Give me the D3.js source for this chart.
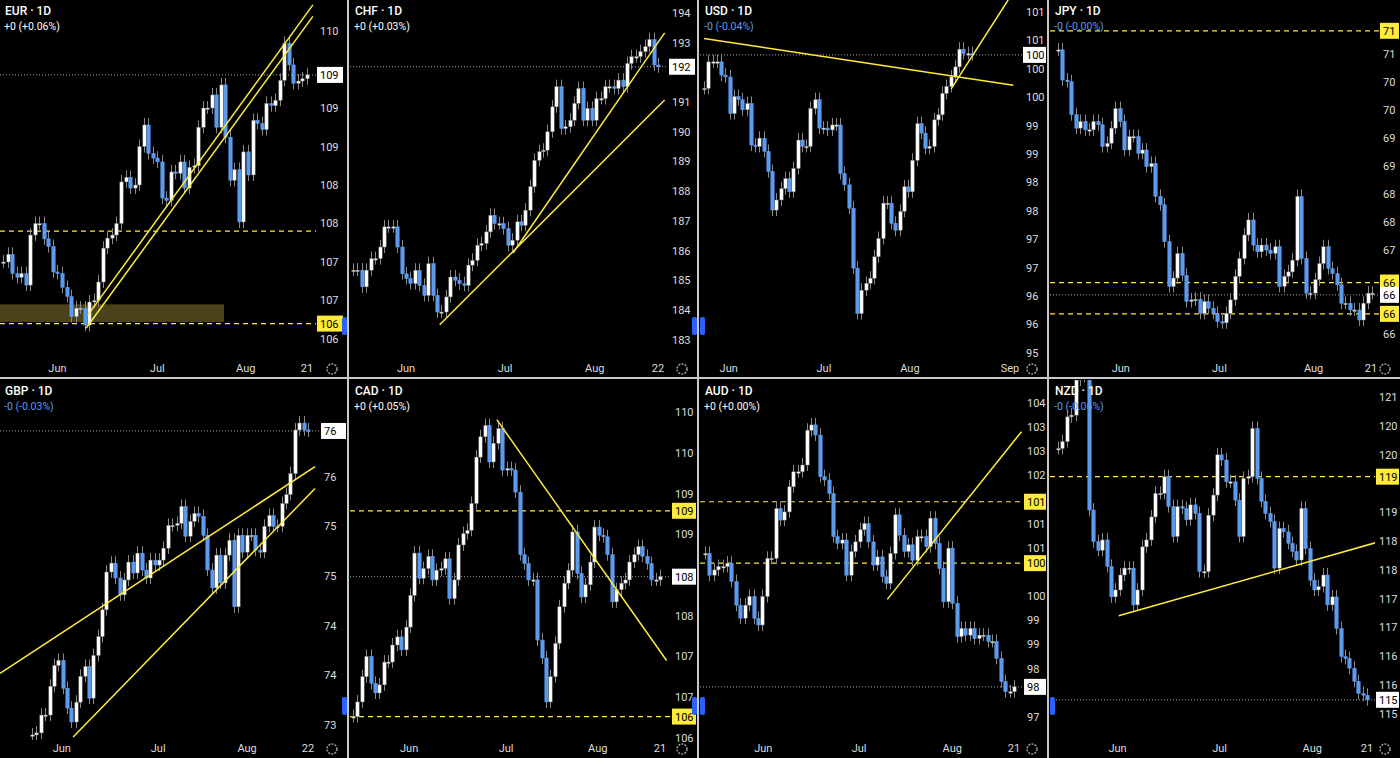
<!DOCTYPE html>
<html><head><meta charset="utf-8">
<script src="https://cdn.jsdelivr.net/npm/d3@7/dist/d3.min.js"></script>
<style>html,body{margin:0;padding:0;background:#000;overflow:hidden}svg{display:block}</style>
</head><body>
<svg id="c" width="1400" height="758"></svg>
<script>
// ---------- DATA ----------
const eurClose=[107.0,107.1,106.85,106.8,106.85,106.7,107.35,107.5,107.5,107.3,107.2,106.87,106.85,106.67,106.55,106.29,106.4,106.4,106.18,106.48,106.5,106.74,107.18,107.31,107.35,107.5,108.04,108.1,107.96,108.0,108.5,108.78,108.41,108.35,108.3,107.83,107.8,108.17,108.15,108.3,107.96,108.23,108.25,108.75,109.0,109.0,109.17,108.75,109.3,108.62,108.06,108.2,107.52,108.43,108.13,108.84,108.8,108.72,109.06,109.03,109.1,109.36,109.84,109.56,109.32,109.35,109.38,109.43];
const chfClose=[185.34,185.34,184.78,185.34,185.73,185.73,186.12,186.8,186.8,186.8,186.12,185.22,185.06,184.89,185.34,184.83,184.49,185.56,184.49,183.93,183.93,184.44,185.11,185.0,184.89,184.83,185.51,185.67,186.18,186.24,186.63,187.19,186.91,186.91,186.74,186.18,186.35,186.97,186.85,187.36,188.15,189.04,189.33,189.38,190.0,190.84,191.52,190.11,190.17,190.39,190.96,191.46,190.39,190.79,190.39,191.12,191.12,191.52,191.52,191.46,191.74,191.52,192.3,192.53,192.53,192.7,192.87,193.11,192.25,192.19];
const usdClose=[99.99,100.41,100.41,100.41,100.2,100.17,99.59,99.86,99.81,99.65,99.75,99.09,99.07,99.2,98.99,98.67,98.06,98.22,98.4,98.56,98.35,98.72,99.17,99.07,99.07,99.67,99.81,99.36,99.36,99.33,99.41,99.41,98.64,98.46,98.09,97.14,96.42,96.79,96.9,96.98,97.32,97.61,98.17,98.17,97.85,97.74,98.04,98.43,98.35,98.85,99.43,99.28,99.04,99.07,99.49,99.57,99.91,100.02,100.17,100.33,100.61,100.54,100.54,100.52];
const jpyClose=[71.08,70.54,70.51,69.92,69.68,69.8,69.65,69.65,69.8,69.74,69.35,69.41,69.68,70.03,69.8,69.29,69.53,69.53,69.23,69.29,68.99,69.05,68.46,68.31,67.65,66.85,67.0,67.44,67.05,66.58,66.61,66.62,66.37,66.58,66.46,66.37,66.22,66.2,66.37,66.61,67.03,67.35,67.77,68.04,67.59,67.47,67.59,67.5,67.44,67.56,66.85,67.03,67.11,67.32,68.46,67.35,66.73,66.73,66.97,67.26,67.56,67.17,67.08,66.88,66.55,66.55,66.43,66.43,66.25,66.55,66.73,66.73];
const gbpClose=[73.4,73.42,73.6,73.6,73.89,74.1,74.15,73.87,73.67,73.53,73.73,73.99,74.09,73.77,74.2,74.39,74.66,75.04,75.13,74.98,74.81,74.96,75.14,75.03,75.23,75.06,74.98,75.16,75.11,75.16,75.28,75.51,75.51,75.53,75.7,75.4,75.55,75.63,75.6,75.41,75.06,74.88,75.21,74.93,75.21,75.36,74.69,75.41,75.24,75.41,75.41,75.26,75.24,75.5,75.61,75.5,75.5,75.73,75.82,76.03,76.47,76.54,76.47,76.46];
const cadClose=[106.46,106.64,106.95,107.2,106.87,106.75,106.85,107.13,107.13,107.34,107.44,107.28,107.56,107.95,108.47,108.16,108.28,108.43,108.14,108.26,108.28,108.4,107.91,108.14,108.57,108.71,108.75,109.08,109.65,109.9,110.04,109.59,109.82,110.0,109.49,109.51,109.49,109.22,108.45,108.34,108.14,108.14,107.4,107.18,106.64,106.95,107.36,107.81,108.1,108.26,108.73,108.22,107.93,108.08,108.36,108.79,108.69,108.67,108.45,107.87,108.02,108.1,108.14,108.36,108.45,108.55,108.43,108.34,108.14,108.14,108.18];
const audClose=[100.88,100.43,100.54,100.61,100.61,100.68,100.3,99.81,99.54,99.81,99.99,99.54,99.4,99.99,100.78,100.78,101.81,101.57,101.74,102.26,102.57,102.57,102.71,103.43,103.54,103.33,102.47,102.4,102.12,101.23,101.09,101.16,100.43,100.92,101.12,101.37,101.5,101.12,100.64,100.81,100.4,100.26,100.88,101.68,101.26,100.92,101.06,100.74,101.23,101.23,101.02,101.61,101.09,100.57,99.88,100.99,99.85,99.16,99.33,99.19,99.33,99.12,99.19,99.19,99.06,99.06,98.71,98.23,98.02,98.02,98.12];
const nzdClose=[120.11,120.23,120.66,120.69,121.3,121.36,121.36,119.04,118.49,118.34,118.52,118.06,117.53,117.65,117.91,118.03,118.03,117.39,117.65,118.4,118.52,118.92,119.33,119.33,119.62,119.1,118.58,119.1,119.07,118.87,119.13,118.98,117.97,117.97,118.95,119.3,120.0,119.91,119.53,119.53,119.21,118.58,119.59,119.62,120.46,119.59,119.19,118.98,118.84,118.03,118.72,118.66,118.46,118.32,118.17,119.07,118.37,117.82,117.65,117.71,117.91,117.39,117.53,116.98,116.49,116.46,116.29,116.06,115.85,115.82,115.74];

const eurTicks=[110,109.5,109,108.5,108,107.5,107,106.5,106], eurTickLabels=["110","109","109","109","108","108","107","107","106"];
const chfTicks=[194,193,192,191,190,189,188,187,186,185,184,183], chfTickLabels=chfTicks.map(String);
const usdTicks=[101.2,100.75,100.3,99.85,99.4,98.95,98.5,98.05,97.6,97.15,96.7,96.25,95.8], usdTickLabels=["101","101","100","100","99","99","98","98","97","97","96","96","95"];
const jpyTicks=[71,70.5,70,69.5,69,68.5,68,67.5,67,66.5,66], jpyTickLabels=["71","70","70","69","69","68","68","67","67","66","66"];
const gbpTicks=[76,75.5,75,74.5,74,73.5], gbpTickLabels=["76","75","75","74","74","73"];
const cadTicks=[110.2,109.7,109.2,108.7,108.2,107.7,107.2,106.7,106.2], cadTickLabels=["110","110","109","109","108","108","107","107","106"];
const audTicks=[104,103.5,103,102.5,102,101.5,101,100.5,100,99.5,99,98.5,98,97.5], audTickLabels=["104","103","103","102","102","101","101","100","100","99","99","98","98","97"];
const nzdTicks=[121,120.5,120,119.5,119,118.5,118,117.5,117,116.5,116,115.5], nzdTickLabels=["121","120","120","119","119","118","118","117","117","116","116","115"];

const months=["Jun","Jul","Aug"];
const eurMonthIdx=[12,34,53.5], chfMonthIdx=[12,34.4,54.7], usdMonthIdx=[5.8,28.2,48.4], jpyMonthIdx=[14.2,36.5,57.8];
const gbpMonthIdx=[6.8,28.8,49.1], cadMonthIdx=[12.8,34.9,55.8], audMonthIdx=[13.2,34.9,56], nzdMonthIdx=[13.5,36.6,57.6];

const eurLevels=[[107.4,null],[106.2,"106"]], jpyLevels=[[71.42,"71"],[66.92,"66"],[66.36,"66"]];
const cadLevels=[[108.99,"109"],[106.46,"106"]], audLevels=[[101.95,"101"],[100.68,"100"]], nzdLevels=[[119.62,"119"]];
const eurLines=[[[18.7,106.31],[68.3,110.34]],[[18.3,106.14],[68.3,110.19]]];
const chfLines=[[[19.6,183.5],[70.5,191.07]],[[36.2,185.92],[70.5,193.33]]];
const usdLines=[[[0,100.78],[72.7,100.04]],[[58.1,99.98],[71.5,101.39]]];
const gbpLines=[[[-7.3,74.02],[64.6,76.1]],[[9.4,73.38],[64.6,75.88]]];
const cadLines=[[[32.8,110.11],[71.5,107.15]]];
const audLines=[[[41.3,99.93],[71.7,103.4]]];
const nzdLines=[[[13.75,117.2],[73.7,118.51]]];

const panels=[
 {name:"EUR",chg:"+0 (+0.06%)",neg:false,close:eurClose,ticks:eurTicks,tl:eurTickLabels,mi:eurMonthIdx,end:"21",levels:eurLevels,lines:eurLines,last:"109",pTop:110.403,pBot:105.727,x0:3,x1:307,ax:320,zone:[0,48.7,106.45,106.22],tab:"r"},
 {name:"CHF",chg:"+0 (+0.03%)",neg:false,close:chfClose,ticks:chfTicks,tl:chfTickLabels,mi:chfMonthIdx,end:"22",levels:[],lines:chfLines,last:"192",pTop:194.438,pBot:182.316,x0:3,x1:308,ax:322,tab:"r"},
 {name:"USD",chg:"-0 (-0.04%)",neg:true,close:usdClose,ticks:usdTicks,tl:usdTickLabels,mi:usdMonthIdx,end:"Sep",levels:[],lines:usdLines,last:"100",pTop:101.39,pBot:95.684,x0:4,x1:272,ax:326,endX:310,tab:"l"},
 {name:"JPY",chg:"-0 (-0.00%)",neg:true,close:jpyClose,ticks:jpyTicks,tl:jpyTickLabels,mi:jpyMonthIdx,end:"21",levels:jpyLevels,lines:[],last:"66",lastP:66.7,pTop:71.971,pBot:65.535,x0:8,x1:322,ax:333,tab:null},
 {name:"GBP",chg:"-0 (-0.03%)",neg:true,close:gbpClose,ticks:gbpTicks,tl:gbpTickLabels,mi:gbpMonthIdx,end:"22",levels:[],lines:gbpLines,last:"76",pTop:76.973,pBot:73.349,x0:32,x1:308,ax:324,tab:"r"},
 {name:"CAD",chg:"+0 (+0.05%)",neg:false,close:cadClose,ticks:cadTicks,tl:cadTickLabels,mi:cadMonthIdx,end:"21",levels:cadLevels,lines:cadLines,last:"108",pTop:110.598,pBot:106.172,x0:3,x1:310,ax:325,tab:"r"},
 {name:"AUD",chg:"+0 (+0.00%)",neg:false,close:audClose,ticks:audTicks,tl:audTickLabels,mi:audMonthIdx,end:"21",levels:audLevels,lines:audLines,last:"98",pTop:104.469,pBot:97.021,x0:5,x1:314,ax:327,tab:"l"},
 {name:"NZD",chg:"-0 (-0.06%)",neg:true,close:nzdClose,ticks:nzdTicks,tl:nzdTickLabels,mi:nzdMonthIdx,end:"21",levels:nzdLevels,lines:nzdLines,last:"115",pTop:121.301,pBot:115.041,x0:8,x1:317,ax:329,tab:"l"}
];

// ---------- DRAW ----------
const svg=d3.select("#c");
svg.append("rect").attr("width",1400).attr("height",758).attr("fill","#000");
const cols=[0,350,700,1050], rows=[0,380], PH=360;
const BLUE="#5b9cf0", YEL="#ffeb3b", FONT="Roboto, 'Noto Sans', sans-serif";

panels.forEach((p,k)=>{
  const col=k%4;
  const PW=col===3?350:347;
  const g=svg.append("g").attr("transform",`translate(${cols[col]},${rows[Math.floor(k/4)]})`);
  const n=p.close.length;
  const x=d3.scaleLinear().domain([0,n-1]).range([p.x0,p.x1]);
  const y=d3.scaleLinear().domain([p.pBot,p.pTop]).range([PH,0]);
  const plotW=p.ax-4;
  const cid="clip"+k;
  g.append("clipPath").attr("id",cid).append("rect").attr("width",plotW).attr("height",PH);
  const pl=g.append("g").attr("clip-path",`url(#${cid})`);
  if(p.zone){pl.append("rect").attr("x",x(p.zone[0])-4).attr("width",x(p.zone[1])-x(p.zone[0])+4)
     .attr("y",y(p.zone[2])).attr("height",y(p.zone[3])-y(p.zone[2])).attr("fill","#4a4218");}
  p.levels.forEach(l=>{pl.append("line").attr("x1",0).attr("x2",plotW).attr("y1",y(l[0])).attr("y2",y(l[0]))
     .attr("stroke",YEL).attr("stroke-width",1.2).attr("stroke-dasharray","5,4");});
  const lastP=p.lastP!==undefined?p.lastP:p.close[n-1];
  pl.append("line").attr("x1",0).attr("x2",plotW).attr("y1",y(lastP)).attr("y2",y(lastP))
     .attr("stroke","#aaa").attr("stroke-width",1).attr("stroke-dasharray","1,2");
  const cw=3.4;
  p.close.forEach((c,i)=>{
    const o=i>0?p.close[i-1]:c;
    const up=c>=o;
    const top=y(Math.max(o,c)), bot=y(Math.min(o,c));
    const cx=Math.round(x(i))+0.5;
    pl.append("line").attr("x1",cx).attr("x2",cx).attr("y1",top-7).attr("y2",bot+6).attr("stroke","#8a8a8a").attr("stroke-width",1);
    pl.append("rect").attr("x",cx-cw/2).attr("y",top).attr("width",cw).attr("height",Math.max(1.5,bot-top))
      .attr("fill",up?"#fff":BLUE).attr("stroke",up?"#777":BLUE).attr("stroke-width",0.5);
  });
  p.lines.forEach(L=>{pl.append("line").attr("x1",x(L[0][0])).attr("y1",y(L[0][1])).attr("x2",x(L[1][0])).attr("y2",y(L[1][1]))
     .attr("stroke",YEL).attr("stroke-width",1.5);});
  // price axis
  const boxW=Math.min(26,PW-p.ax+2);
  const boxes=[y(lastP)].concat(p.levels.filter(l=>l[1]).map(l=>y(l[0])));
  const ax=g.append("g");
  p.ticks.forEach((t,j)=>{ const ty=y(t);
     if(boxes.some(b=>Math.abs(b-ty)<11)) return;
     ax.append("text").attr("x",p.ax).attr("y",ty+4).attr("fill","#ddd")
     .attr("font-family",FONT).attr("font-size",11).text(p.tl[j]);});
  p.levels.forEach(l=>{ if(!l[1])return;
     ax.append("rect").attr("x",p.ax-3).attr("y",y(l[0])-8).attr("width",boxW).attr("height",16).attr("fill",YEL);
     ax.append("text").attr("x",p.ax).attr("y",y(l[0])+4).attr("fill","#000").attr("font-family",FONT).attr("font-size",11).text(l[1]);});
  ax.append("rect").attr("x",p.ax-3).attr("y",y(lastP)-8).attr("width",boxW).attr("height",16).attr("fill","#fff");
  ax.append("text").attr("x",p.ax).attr("y",y(lastP)+4).attr("fill","#000").attr("font-family",FONT).attr("font-size",11).text(p.last);
  // time axis
  p.mi.forEach((m,j)=>{g.append("text").attr("x",x(m)).attr("y",372).attr("text-anchor","middle").attr("fill","#ddd")
     .attr("font-family",FONT).attr("font-size",11).text(months[j]);});
  const ex=p.endX!==undefined?p.endX:x(n-1);
  g.append("text").attr("x",Math.min(ex,plotW-8)).attr("y",372).attr("text-anchor","middle").attr("fill","#ddd")
     .attr("font-family",FONT).attr("font-size",11).text(p.end);
  g.append("circle").attr("cx",PW-15).attr("cy",369).attr("r",5).attr("fill","none").attr("stroke","#999").attr("stroke-width",1.5).attr("stroke-dasharray","2,1.2");
  if(p.tab) g.append("rect").attr("x",p.tab==="r"?PW-5:0).attr("y",317).attr("width",5).attr("height",18).attr("rx",2).attr("fill","#2962ff");
  g.append("text").attr("x",5).attr("y",15).attr("fill","#fff").attr("font-family",FONT).attr("font-size",12).attr("font-weight",500).text(p.name+" · 1D");
  g.append("text").attr("x",4).attr("y",30).attr("fill",p.neg?BLUE:"#fff").attr("font-family",FONT).attr("font-size",10.5).text(p.chg);
});
[347,697,1047].forEach(sx=>svg.append("rect").attr("x",sx).attr("y",0).attr("width",2).attr("height",758).attr("fill","#c8c8c8"));
svg.append("rect").attr("x",0).attr("y",377).attr("width",1400).attr("height",2).attr("fill","#c8c8c8");
</script>
</body></html>
